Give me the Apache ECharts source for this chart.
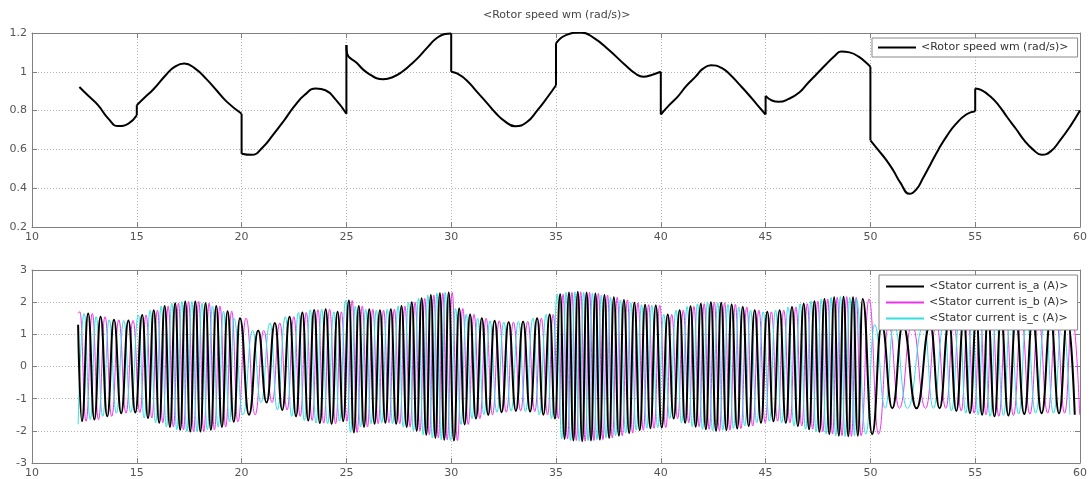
<!DOCTYPE html>
<html><head><meta charset="utf-8">
<script src="https://cdn.jsdelivr.net/npm/echarts@6/dist/echarts.min.js"></script>
<style>html,body{margin:0;padding:0;background:#fff}#c{width:1090px;height:479px}</style>
</head><body><div id="c"></div>
<script>
// ---- axis ticks ----
const xTicks = {min: 10, max: 60, step: 5};
const speedTicks = {min: 0.2, max: 1.2, step: 0.2};
const currentTicks = {min: -3, max: 3, step: 1};

// ---- series names ----
const speedName = '<Rotor speed wm (rad/s)>';
const currentNames = ['<Stator current is_a (A)>', '<Stator current is_b (A)>', '<Stator current is_c (A)>'];

// ---- rotor speed [t, wm], one array per 5 s interval ----
const speedSeg1 = [[12.26,0.922],[12.7,0.875],[13.15,0.828],[13.63,0.76],[14.11,0.72],[14.6,0.733],[15,0.776]];
const speedSeg2 = [[15,0.828],[15.4,0.87],[15.75,0.905],[16.4,0.985],[16.8,1.025],[17.26,1.043],[17.8,1.015],[18.3,0.965],[18.8,0.905],[19.3,0.845],[20,0.784]];
const speedSeg3 = [[20,0.578],[20.48,0.572],[21,0.61],[21.5,0.675],[22,0.745],[22.5,0.82],[23,0.88],[23.55,0.914],[24,0.905],[24.5,0.855],[25,0.784]];
const speedSeg4 = [[25,1.138],[25.03,1.095],[25.5,1.045],[26,0.995],[26.77,0.962],[27.2,0.972],[27.66,1.0],[28.1,1.04],[28.47,1.078],[28.9,1.13],[29.27,1.17],[29.7,1.195],[30,1.198]];
const speedSeg5 = [[30,1.0],[30.3,0.99],[30.73,0.957],[31.2,0.9],[31.7,0.84],[32.1,0.79],[32.5,0.75],[33.06,0.719],[33.6,0.74],[34.1,0.8],[34.6,0.87],[35,0.931]];
const speedSeg6 = [[35,1.147],[35.5,1.19],[36.19,1.203],[36.8,1.175],[37.5,1.115],[38.3,1.035],[38.8,0.99],[39.17,0.974],[39.6,0.985],[40,1.0]];
const speedSeg7 = [[40,0.78],[40.4,0.828],[40.83,0.875],[41.2,0.925],[41.66,0.975],[42.0,1.015],[42.4,1.034],[42.9,1.02],[43.31,0.985],[43.7,0.94],[44.14,0.888],[44.6,0.83],[45,0.78]];
const speedSeg8 = [[45,0.876],[45.3,0.852],[45.63,0.845],[46.1,0.86],[46.62,0.895],[47.0,0.94],[47.45,0.99],[47.9,1.04],[48.28,1.08],[48.6,1.105],[49.0,1.1],[49.44,1.078],[49.93,1.034],[50,1.026]];
const speedSeg9 = [[50,0.647],[50.35,0.6],[50.76,0.545],[51.1,0.49],[51.42,0.43],[51.87,0.371],[52.2,0.395],[52.5,0.45],[52.85,0.52],[53.25,0.6],[53.65,0.67],[54.07,0.73],[54.57,0.78],[55,0.797]];
const speedSeg10 = [[55,0.914],[55.3,0.905],[55.7,0.875],[56.1,0.83],[56.52,0.767],[56.95,0.705],[57.35,0.645],[57.75,0.6],[58.18,0.572],[58.6,0.59],[59.04,0.645],[59.54,0.72],[60,0.8]];
const speedSegments = [speedSeg1, speedSeg2, speedSeg3, speedSeg4, speedSeg5, speedSeg6, speedSeg7, speedSeg8, speedSeg9, speedSeg10];

// ---- stator currents: positive-peak times of phase a and peak amplitudes ----
const peakT = [12.08,12.68,13.27,13.91,14.6,15.26,15.81,16.33,16.83,17.31,17.79,18.28,18.79,19.33,19.92,
  20.79,21.59,22.29,22.9,23.46,24.01,24.58,
  25.12,25.59,26.09,26.6,27.12,27.63,28.12,28.59,29.03,29.46,29.88,
  30.38,30.9,31.46,32.07,32.74,33.43,34.1,34.7,
  35.2,35.62,36.04,36.46,36.88,37.31,37.76,38.24,38.74,39.25,39.76,
  40.33,40.9,41.42,41.91,42.39,42.88,43.38,43.91,44.48,
  45.08,45.67,46.26,46.82,47.33,47.81,48.27,48.72,49.17,49.63,
  50.54,51.55,52.85,53.75,54.45,55.05,
  55.61,56.23,56.94,57.74,58.6,59.4,60.1];
const peakA = [1.7,1.65,1.55,1.45,1.43,1.6,1.75,1.88,1.97,2.02,2.02,1.97,1.88,1.72,1.5,
  1.12,1.35,1.55,1.68,1.76,1.78,1.7,
  2.05,1.88,1.78,1.75,1.78,1.88,2.0,2.12,2.22,2.28,2.3,
  1.8,1.62,1.5,1.42,1.38,1.4,1.5,1.62,
  2.25,2.3,2.32,2.3,2.27,2.22,2.15,2.07,1.98,1.92,1.9,
  1.62,1.75,1.87,1.95,2.0,1.98,1.93,1.85,1.75,
  1.7,1.75,1.85,1.95,2.03,2.1,2.15,2.17,2.15,2.1,
  1.3,1.3,1.3,1.38,1.45,1.5,
  1.55,1.52,1.48,1.45,1.45,1.5,1.5];
const phaseLag = [0, 1, -1];            // b lags a by a third of a cycle, c leads a by a third
const currentStart = [1.3, 1.65, -1.8]; // values at t = 12.2
const tStart = 12.2, tEnd = 60;

function phaseExtrema(k) {
  const pts = [[tStart, currentStart[k]]];
  const n = Math.min(peakT.length, peakA.length) - 1;
  for (let i = 0; i < n; i++) {
    const T = peakT[i + 1] - peakT[i];
    const s = phaseLag[k] * T / 3;
    const tp = peakT[i] + s, tn = peakT[i] + T / 2 + s;
    if (tp > tStart && tp <= tEnd) pts.push([tp, peakA[i]]);
    if (tn > tStart && tn <= tEnd) pts.push([tn, -peakA[i]]);
  }
  pts.sort((p, q) => p[0] - q[0]);
  return pts;
}

// smooth pieces separated by gaps, plus straight vertical steps between pieces
const speedSmooth = [];
const speedSteps = [];
speedSegments.forEach((seg, i) => {
  if (i > 0) {
    speedSmooth.push('-');
    const prev = speedSegments[i - 1];
    speedSteps.push(prev[prev.length - 1], seg[0], '-');
  }
  seg.forEach(p => speedSmooth.push(p));
});

const FF = '"DejaVu Sans", Verdana, sans-serif';
const AX = '#808080', LC = '#555', GRIDC = '#b4b4b4';

function xAxes(g) {
  return [
    {gridIndex: g, type: 'value', min: xTicks.min, max: xTicks.max, interval: xTicks.step, position: 'bottom',
     axisLine: {show: true, onZero: false, lineStyle: {color: AX, width: 1}},
     axisTick: {show: true, inside: true, length: 5, lineStyle: {color: AX}},
     axisLabel: {color: LC, fontSize: 11, margin: 5, fontFamily: FF},
     splitLine: {show: true, lineStyle: {color: GRIDC, type: [1, 2], width: 1}}},
    {gridIndex: g, type: 'value', min: xTicks.min, max: xTicks.max, interval: xTicks.step, position: 'top',
     axisLine: {show: true, onZero: false, lineStyle: {color: AX, width: 1}},
     axisTick: {show: true, inside: true, length: 5, lineStyle: {color: AX}},
     axisLabel: {show: false}, splitLine: {show: false}}
  ];
}
function yAxes(g, t) {
  return [
    {gridIndex: g, type: 'value', min: t.min, max: t.max, interval: t.step, position: 'left',
     axisLine: {show: true, onZero: false, lineStyle: {color: AX, width: 1}},
     axisTick: {show: true, inside: true, length: 5, lineStyle: {color: AX}},
     axisLabel: {color: LC, fontSize: 11, margin: 5, fontFamily: FF},
     splitLine: {show: true, lineStyle: {color: GRIDC, type: [1, 2], width: 1}}},
    {gridIndex: g, type: 'value', min: t.min, max: t.max, interval: t.step, position: 'right',
     axisLine: {show: true, onZero: false, lineStyle: {color: AX, width: 1}},
     axisTick: {show: true, inside: true, length: 5, lineStyle: {color: AX}},
     axisLabel: {show: false}, splitLine: {show: false}}
  ];
}

const currentColors = ['#000000', '#ee33ee', '#33e0e0'];
const currentWidths = [2, 1, 1];
const currentZ = [5, 3, 4];

const chart = echarts.init(document.getElementById('c'), null, {renderer: 'canvas'});
const legendBase = {
  icon: 'rect', itemWidth: 38, itemHeight: 2, selectedMode: false, z: 20,
  backgroundColor: '#fff', borderColor: '#8a8a8a', borderWidth: 1, borderRadius: 0,
  textStyle: {fontSize: 11, color: '#333', fontFamily: FF, lineHeight: 13}
};
chart.setOption({
  animation: false,
  backgroundColor: '#fff',
  graphic: [{type: 'text', left: 483, top: 10,
    style: {text: speedName, fontSize: 11, fill: '#444', fontFamily: FF}}],
  grid: [
    {left: 32, right: 8, top: 33, height: 194},
    {left: 32, right: 8, top: 270, height: 193}
  ],
  xAxis: [...xAxes(0), ...xAxes(1)],
  yAxis: [...yAxes(0, speedTicks), ...yAxes(1, currentTicks)],
  legend: [
    Object.assign({}, legendBase, {data: [speedName], left: 872, top: 38, orient: 'horizontal', padding: [3, 9, 3, 6]}),
    Object.assign({}, legendBase, {data: currentNames, left: 879, top: 275, orient: 'vertical', itemGap: 3, padding: [5, 9, 5, 7]})
  ],
  series: [
    {name: speedName, type: 'line', xAxisIndex: 0, yAxisIndex: 0, data: speedSmooth,
     showSymbol: false, smooth: 0.5, connectNulls: false,
     lineStyle: {color: '#000', width: 2}, itemStyle: {color: '#000'}},
    {name: speedName, type: 'line', xAxisIndex: 0, yAxisIndex: 0, data: speedSteps,
     showSymbol: false, smooth: false, connectNulls: false,
     lineStyle: {color: '#000', width: 2}, itemStyle: {color: '#000'}},
    ...currentNames.map((nm, k) => ({
      name: nm, type: 'line', xAxisIndex: 2, yAxisIndex: 2, data: phaseExtrema(k),
      showSymbol: false, smooth: 0.5, smoothMonotone: 'x', z: currentZ[k],
      lineStyle: {color: currentColors[k], width: currentWidths[k]}, itemStyle: {color: currentColors[k]}
    }))
  ]
});
</script></body></html>
